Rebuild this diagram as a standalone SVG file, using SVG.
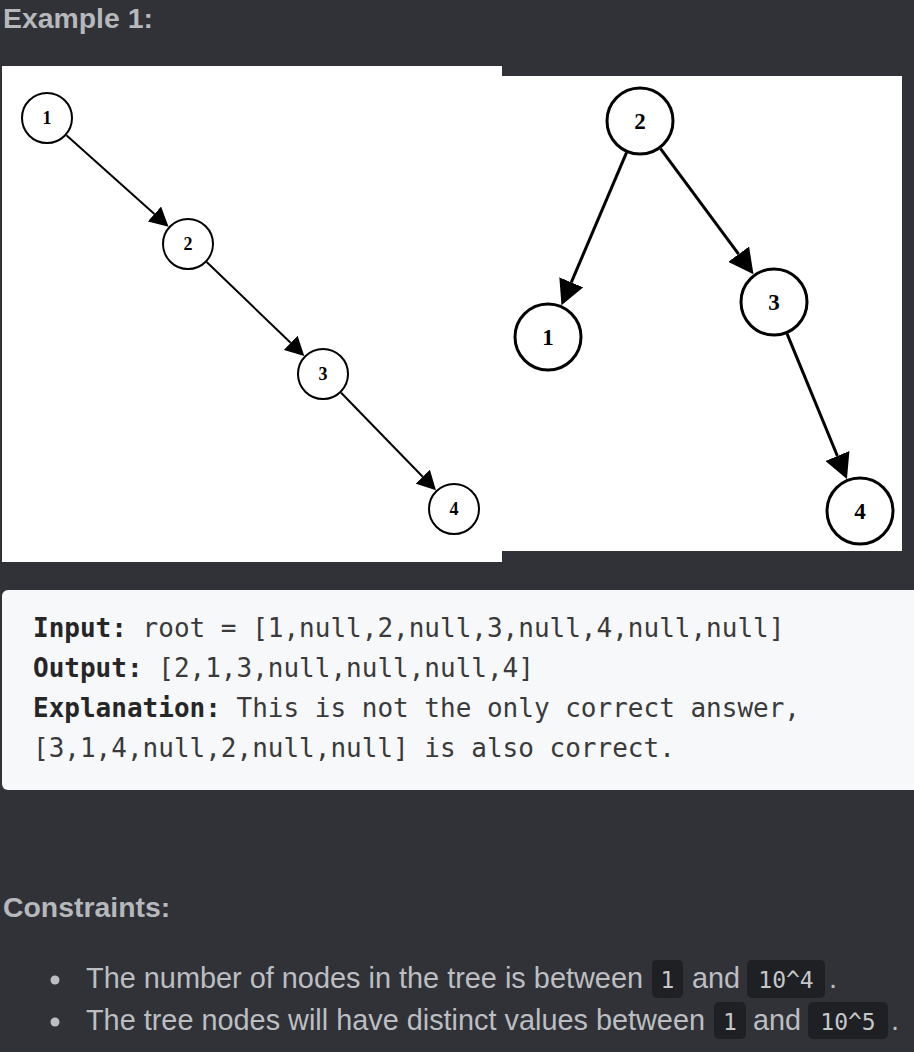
<svg xmlns="http://www.w3.org/2000/svg" width="914" height="1052" viewBox="0 0 914 1052">
<style>
.h{font-family:"Liberation Sans",Arial,sans-serif;font-weight:bold;font-size:28.4px;fill:#b6b8bc}
.code{font-family:"DejaVu Sans Mono","Liberation Mono",monospace;font-size:26px;fill:#3a3a3a}
.code .b{font-weight:bold;fill:#262626}
.txt{font-family:"Liberation Sans",Arial,sans-serif;font-size:28.8px;fill:#bcbec2}
.chip{fill:#1f2023}
.ct{font-family:"DejaVu Sans Mono","Liberation Mono",monospace;font-size:23px;fill:#c6c7c9;text-anchor:middle}
.nl circle{fill:#fff;stroke:#000;stroke-width:2}
.nr circle{fill:#fff;stroke:#000;stroke-width:3}
.nl text{font-family:"Liberation Serif","Times New Roman",serif;font-weight:bold;font-size:18px;text-anchor:middle;fill:#000}
.nr text{font-family:"Liberation Serif","Times New Roman",serif;font-weight:bold;font-size:23px;text-anchor:middle;fill:#000}
.el line{stroke:#000;stroke-width:2}
.er line{stroke:#000;stroke-width:3}
</style>
<defs>
<marker id="al" markerUnits="userSpaceOnUse" viewBox="0 0 19 20" refX="0" refY="10" markerWidth="19" markerHeight="20" orient="auto"><path d="M0,0 L19,10 L0,20 z" fill="#000"/></marker>
<marker id="ar" markerUnits="userSpaceOnUse" viewBox="0 0 25 26" refX="0" refY="13" markerWidth="25" markerHeight="26" orient="auto"><path d="M0,0 L25,13 L0,26 z" fill="#000"/></marker>
</defs>
<rect x="0" y="0" width="914" height="1052" fill="#303237"/>
<text class="h" x="3" y="28">Example 1:</text>
<rect x="2" y="66" width="500" height="496" fill="#fff"/>
<rect x="502" y="76" width="400" height="475" fill="#fff"/>
<g id="connectors">
<g class="el">
<line x1="66.4" y1="135.3" x2="154.4" y2="214.0" marker-end="url(#al)"/>
<line x1="206.7" y1="262.0" x2="290.6" y2="342.8" marker-end="url(#al)"/>
<line x1="341.1" y1="392.7" x2="422.7" y2="476.7" marker-end="url(#al)"/>
</g>
<g class="er">
<line x1="626.5" y1="152.7" x2="571.3" y2="282.3" marker-end="url(#ar)"/>
<line x1="660.5" y1="148.7" x2="738.6" y2="254.2" marker-end="url(#ar)"/>
<line x1="787.1" y1="333.9" x2="837.4" y2="456.0" marker-end="url(#ar)"/>
</g>
</g>
<g id="in1" class="nl"><circle cx="47" cy="118" r="25"/><text x="47" y="124">1</text></g>
<g id="in2" class="nl"><circle cx="188" cy="244" r="25"/><text x="188" y="250">2</text></g>
<g id="in3" class="nl"><circle cx="323" cy="374" r="25"/><text x="323" y="380">3</text></g>
<g id="in4" class="nl"><circle cx="454" cy="509" r="25"/><text x="454" y="515">4</text></g>
<g id="out2" class="nr"><circle cx="640" cy="121" r="33"/><text x="640" y="129">2</text></g>
<g id="out1" class="nr"><circle cx="548" cy="337" r="33"/><text x="548" y="345">1</text></g>
<g id="out3" class="nr"><circle cx="774" cy="302" r="33"/><text x="774" y="310">3</text></g>
<g id="out4" class="nr"><circle cx="860" cy="511" r="33"/><text x="860" y="519">4</text></g>
<g id="codebox">
<rect x="2" y="590" width="930" height="200" rx="6" fill="#f7f8fa"/>
<text class="code" x="33" y="637"><tspan class="b">Input:</tspan> root = [1,null,2,null,3,null,4,null,null]</text>
<text class="code" x="33" y="677"><tspan class="b">Output:</tspan> [2,1,3,null,null,null,4]</text>
<text class="code" x="33" y="717"><tspan class="b">Explanation:</tspan> This is not the only correct answer,</text>
<text class="code" x="33" y="757">[3,1,4,null,2,null,null] is also correct.</text>
</g>
<text class="h" x="3" y="917">Constraints:</text>
<g id="constraints">
<circle cx="55" cy="980" r="4.5" fill="#bcbec2"/>
<text class="txt" x="86" y="988" textLength="557" lengthAdjust="spacingAndGlyphs">The number of nodes in the tree is between</text>
<rect class="chip" x="652" y="960" width="31" height="38" rx="5"/>
<text class="ct" x="667.5" y="988">1</text>
<text class="txt" x="692" y="988">and</text>
<rect class="chip" x="747" y="960" width="78" height="38" rx="5"/>
<text class="ct" x="786" y="988">10^4</text>
<text class="txt" x="829" y="988">.</text>
<circle cx="55" cy="1022" r="4.5" fill="#bcbec2"/>
<text class="txt" x="86" y="1030" textLength="619" lengthAdjust="spacingAndGlyphs">The tree nodes will have distinct values between</text>
<rect class="chip" x="714" y="1002" width="32" height="37" rx="5"/>
<text class="ct" x="730" y="1030">1</text>
<text class="txt" x="753" y="1030">and</text>
<rect class="chip" x="808" y="1002" width="80" height="37" rx="5"/>
<text class="ct" x="848" y="1030">10^5</text>
<text class="txt" x="891" y="1030">.</text>
</g>
</svg>
